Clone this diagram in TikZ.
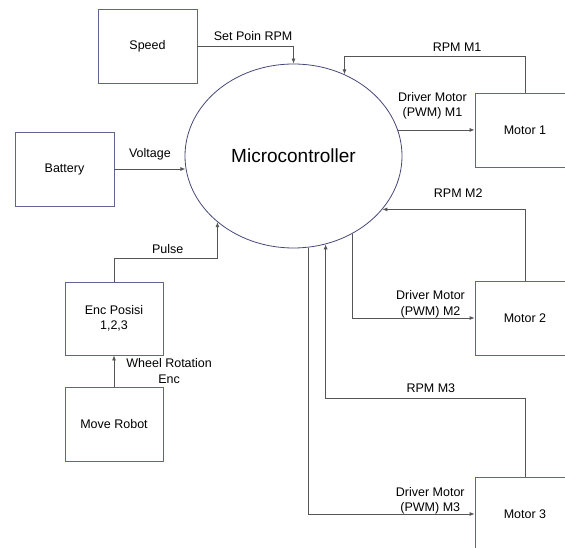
\documentclass[tikz,border=0pt]{standalone}
\usepackage{fontspec}
\setmainfont{Liberation Sans}
\usetikzlibrary{shapes.geometric,arrows.meta}
\definecolor{boxcol}{RGB}{95,100,145}
\definecolor{ellcol}{RGB}{70,72,120}
\definecolor{linecol}{RGB}{85,85,85}

\begin{document}
\begin{tikzpicture}
   [x=1pt, y=-1pt, line width=0.8pt,
    block/.style={rectangle,draw=boxcol,minimum width=99pt,minimum height=74pt,inner sep=0pt,align=center,font=\fontsize{12.5}{15.5}\selectfont},
    ctrl/.style={ellipse,draw=ellcol,minimum width=217pt,minimum height=184pt,inner sep=0pt,font=\fontsize{19}{22}\selectfont},
    sig/.style={draw=linecol,-{Latex[length=5pt,width=4pt]}},
    lbl/.style={inner sep=1pt,align=center,font=\fontsize{12.5}{15.5}\selectfont}]
   \useasboundingbox (0,0) rectangle (565,548);
   \clip (0,0) rectangle (565,548);

   \node[ctrl] (mc) at (293.5,156) {Microcontroller};
   \node[block] (spd) at (147.5,46.5) {Speed};
   \node[block] (bat) at (64.5,169) {Battery};
   \node[block, minimum width=98pt, minimum height=73pt] (enc) at (114,318.5) {Enc Posisi\\1,2,3};
   \node[block, minimum width=98pt] (mov) at (114,424) {Move Robot};
   \node[block, minimum width=100pt] (m1) at (525,130) {Motor 1};
   \node[block, minimum width=100pt] (m2) at (525,318) {Motor 2};
   \node[block, minimum width=100pt] (m3) at (525,514) {Motor 3};

   \draw[sig] (spd.east) -| node[lbl, above=4.5pt, pos=0.29] {Set Poin RPM} (mc.north);
   \draw[sig] (bat.east) -- node[lbl, above=8pt] {Voltage} (bat.east -| mc.186.9);
   \draw[sig] (enc.north) -- ++(0,-23) -| node[lbl, above=4pt, pos=0.26] {Pulse} (mc.221.2);
   \draw[sig] (mov.north) -- node[lbl, right=11pt] {Wheel Rotation\\Enc} (enc.south);

   \draw[sig] (m1.north) -- ++(0,-36) -| node[lbl, above=4pt, pos=0.188] {RPM M1} (mc.58.2);
   \draw[sig] (mc.14) -- node[lbl, above=9pt, pos=0.45] {Driver Motor\\(PWM) M1} (mc.14 -| m1.west);

   \draw[sig] (m2.north) |- node[lbl, above=10pt, pos=0.734] {RPM M2} (mc.329.1);
   \draw[sig] (mc.307.7) |- node[lbl, above=-1pt, pos=0.82] {Driver Motor\\(PWM) M2} (m2.west);

   \draw[sig] (m3.north) -- ++(0,-78) -| node[lbl, above=5pt, pos=0.236] {RPM M3} (mc.290.3);
   \draw[sig] (mc.279.7) |- node[lbl, above=-1.5pt, pos=0.867] {Driver Motor\\(PWM) M3} (m3.west);
\end{tikzpicture}
\end{document}
